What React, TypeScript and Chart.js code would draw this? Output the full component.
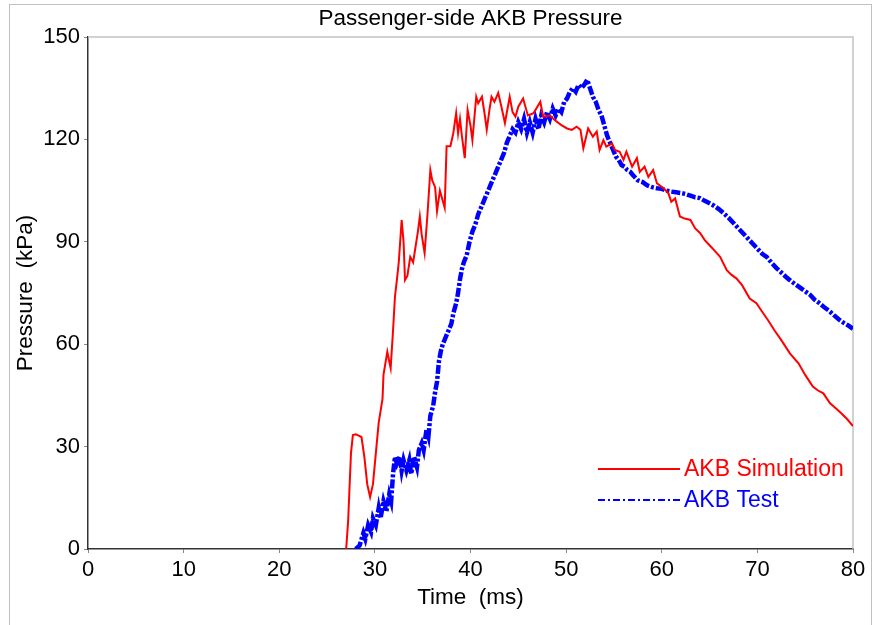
import React, { useEffect, useRef } from "react";
import { Chart, registerables } from "chart.js";

Chart.register(...registerables);

const chartTitle = "Passenger-side AKB Pressure";
const xTitle = "Time  (ms)";
const yTitle = "Pressure  (kPa)";
const simLabel = "AKB Simulation";
const testLabel = "AKB Test";

const xTickValues = [0, 10, 20, 30, 40, 50, 60, 70, 80];
const yTickValues = [0, 30, 60, 90, 120, 150];

const simTime = [
  27.0, 27.2, 27.5, 27.7, 28.0, 28.3, 28.6, 28.9, 29.2, 29.5, 29.8, 30.1, 30.4, 30.8, 30.9,
  31.3, 31.5, 31.65, 31.9, 32.1, 32.3, 32.5, 32.8, 33.0, 33.15, 33.4, 33.7, 34.0, 34.2, 34.5,
  34.7, 34.9, 35.2, 35.5, 35.8, 36.0, 36.3, 36.5, 36.8, 37.0, 37.3, 37.5, 37.9, 38.2, 38.5,
  38.7, 38.9, 39.1, 39.4, 39.7, 40.0, 40.2, 40.6, 40.8, 41.2, 41.5, 41.7, 42.0, 42.2, 42.5,
  42.9, 43.2, 43.6, 44.1, 44.4, 44.7, 45.0, 45.5, 46.0, 46.6, 47.3, 47.6, 48.3, 48.8, 49.5,
  50.1, 50.6, 51.1, 51.5, 51.8, 52.3, 52.8, 53.2, 53.5, 53.9, 54.2, 54.8, 55.1, 55.6, 56.0,
  56.3, 56.9, 57.4, 57.7, 58.2, 58.6, 59.1, 59.5, 60.2, 60.7, 61.0, 61.4, 61.9, 62.4, 63.0,
  63.5, 64.0, 64.5, 65.0, 65.5, 66.1, 66.8, 67.3, 67.8, 68.4, 69.2, 69.9, 70.5, 71.1, 71.8,
  72.5, 73.4, 74.3, 75.0, 75.8, 76.3, 76.9, 77.6, 78.2, 78.8, 79.4, 80.0,
];
const simPressure = [
  0, 8, 28, 33.4, 33.6, 33.2, 32.8, 27, 19, 15.2, 19, 28, 37, 44, 51,
  57.8, 55, 53, 64, 73.9, 78.8, 84, 96.4, 90, 78.8, 80, 85.6, 84, 87.6, 93,
  97.4, 92, 86.7, 98, 111, 108, 106, 99, 105, 103, 100, 118, 118, 121.8, 127.7,
  121.8, 126, 121, 114.5, 128.6, 124, 119.8, 132.5, 130.6, 132.5, 127, 122.8, 129, 132.5, 131,
  133.6, 130, 124.8, 132.5, 128, 126.7, 129.6, 132, 127, 127.7, 131, 126.7, 127, 125.7, 124.2,
  123.2, 122.8, 123.7, 122.8, 117.4, 123.2, 120.8, 122.3, 116.9, 119.8, 117.9, 118.8, 116.9, 116.4, 114,
  116.4, 112, 114.5, 110.5, 112, 109, 111, 107.1, 105.7, 104.2, 101.7, 102.7, 97.4, 96.8, 96.4,
  93.9, 92.6, 90.5, 89, 87.5, 85.6, 81.7, 80.3, 79.3, 77.3, 73.4, 72, 69.5, 67.1, 64,
  61.2, 57.3, 54.4, 51, 47.6, 46.5, 45.6, 42.7, 41.2, 39.7, 38, 36,
];

const testTime = [
  28.0, 28.4, 28.8, 29.0, 29.3, 29.6, 29.8, 30.1, 30.4, 30.6, 30.9, 31.2, 31.5, 31.7, 31.9,
  32.1, 32.3, 32.6, 32.8, 33.0, 33.3, 33.6, 33.8, 34.1, 34.4, 34.6, 34.9, 35.1, 35.4, 35.6,
  35.8, 36.1, 36.3, 36.5, 36.7, 36.9, 37.1, 37.4, 37.7, 38.0, 38.2, 38.5, 38.7, 38.9, 39.1,
  39.3, 39.6, 39.9, 40.2, 40.5, 40.8, 41.1, 41.4, 41.7, 42.0, 42.3, 42.6, 42.9, 43.2, 43.5,
  43.8, 44.1, 44.4, 44.7, 45.0, 45.3, 45.6, 45.9, 46.2, 46.5, 46.8, 47.1, 47.4, 47.7, 48.0,
  48.3, 48.6, 48.9, 49.2, 49.5, 49.8, 50.1, 50.4, 50.7, 51.0, 51.3, 51.6, 51.9, 52.2, 52.5,
  52.8, 53.1, 53.4, 53.7, 54.0, 54.3, 54.6, 54.9, 55.2, 55.5, 55.8, 56.1, 56.4, 56.7, 57.0,
  57.5, 58.0, 58.5, 59.0, 59.5, 60.0, 60.5, 61.0, 61.5, 62.0, 62.5, 63.0, 63.5, 64.0, 64.5,
  65.0, 65.5, 66.0, 66.5, 67.0, 67.5, 68.0, 68.5, 69.0, 69.5, 70.0, 70.5, 71.0, 71.5, 72.0,
  72.5, 73.0, 73.5, 74.0, 74.5, 75.0, 75.5, 76.0, 76.5, 77.0, 77.5, 78.0, 78.5, 79.0, 79.5,
  80.0,
];
const testPressure = [
  0, 1, 4.7, 3, 7, 5, 9, 7, 12, 9, 14, 11, 16, 14, 22,
  27, 25, 27, 23, 26, 23, 26, 22, 27, 24, 29, 31, 29, 35, 33,
  39, 42, 46, 49, 55, 58, 60, 62, 64, 66, 69, 72, 75, 79, 82,
  84, 86, 90, 93, 95, 98, 100, 102, 104, 106, 108, 110, 112, 114, 116,
  119, 121, 123, 122, 125, 123, 126, 122, 125, 122, 126, 123, 127, 125, 128,
  126, 129, 127, 129, 128, 131, 132, 134, 135, 134, 136, 135, 136, 137.5, 135,
  132.5, 131, 128.6, 127, 124, 121, 119, 117, 115, 114, 112.5, 112, 111, 110.5, 109.5,
  108, 107.5, 106.5, 106, 105.7, 105.5, 105, 104.7, 104.5, 104.3, 104, 103.5, 103, 102.8, 102,
  101.3, 100.5, 99.5, 98.3, 97, 95.5, 94, 92.5, 91, 89.5, 88, 86.5, 85.5, 83.8, 82.3,
  81, 79.7, 78.5, 77.5, 76.5, 75.5, 74.5, 73, 72, 70.8, 69.8, 68.5, 67.3, 66.3, 65.5,
  64.5,
];

const SIM_COLOR = "#ff0000";
const TEST_COLOR = "#0000ff";
const FONT = "'Liberation Sans', Arial, Helvetica, sans-serif";

const plotFramePlugin = {
  id: "plotFrame",
  beforeDatasetsDraw(chart: any) {
    const { ctx, chartArea } = chart;
    ctx.save();
    ctx.strokeStyle = "#c4c4c4";
    ctx.lineWidth = 1.5;
    ctx.beginPath();
    ctx.moveTo(chartArea.left, chartArea.top);
    ctx.lineTo(chartArea.right, chartArea.top);
    ctx.lineTo(chartArea.right, chartArea.bottom);
    ctx.stroke();
    ctx.restore();
  },
};

const insideLegendPlugin = {
  id: "insideLegend",
  afterDatasetsDraw(chart: any) {
    const { ctx, chartArea } = chart;
    const x1 = chartArea.right - 255;
    const x2 = chartArea.right - 173;
    const tx = chartArea.right - 169;
    const rows = [chartArea.bottom - 80, chartArea.bottom - 49];
    ctx.save();
    chart.data.datasets.forEach((ds: any, i: number) => {
      const y = rows[i];
      ctx.strokeStyle = ds.borderColor;
      ctx.lineWidth = 2;
      ctx.setLineDash(i === 1 ? [7, 3, 2, 3] : []);
      ctx.beginPath();
      ctx.moveTo(x1, y);
      ctx.lineTo(x2, y);
      ctx.stroke();
      ctx.setLineDash([]);
      ctx.fillStyle = ds.borderColor;
      ctx.font = `23px ${FONT}`;
      ctx.textAlign = "left";
      ctx.textBaseline = "middle";
      ctx.fillText(ds.label, tx, y + 1);
    });
    ctx.restore();
  },
};

export default function App() {
  const canvasRef = useRef<HTMLCanvasElement | null>(null);

  useEffect(() => {
    const canvas = canvasRef.current;
    if (!canvas) return;
    const simData = simTime.map((t, i) => ({ x: t, y: simPressure[i] }));
    const testData = testTime.map((t, i) => ({ x: t, y: testPressure[i] }));

    const chart = new Chart(canvas, {
      type: "line",
      data: {
        datasets: [
          {
            label: simLabel,
            data: simData,
            borderColor: SIM_COLOR,
            backgroundColor: SIM_COLOR,
            borderWidth: 2,
            pointRadius: 0,
            tension: 0,
          },
          {
            label: testLabel,
            data: testData,
            borderColor: TEST_COLOR,
            backgroundColor: TEST_COLOR,
            borderWidth: 4.5,
            borderDash: [9, 2, 3, 2],
            pointRadius: 0,
            tension: 0,
          },
        ],
      },
      options: {
        responsive: false,
        animation: false,
        devicePixelRatio: 1,
        layout: { padding: { left: 0, right: 21, top: 0, bottom: 0 } },
        plugins: {
          legend: { display: false },
          tooltip: { enabled: false },
          title: {
            display: true,
            text: chartTitle,
            fullSize: false,
            color: "#000",
            font: { family: FONT, size: 22.5, weight: "normal" },
            padding: { top: 5, bottom: 5 },
          },
        },
        scales: {
          x: {
            type: "linear",
            min: 0,
            max: 80,
            afterBuildTicks: (scale: any) => {
              scale.ticks = xTickValues.map((v) => ({ value: v }));
            },
            afterFit: (scale: any) => {
              scale.height = 76;
            },
            ticks: {
              color: "#000",
              font: { family: FONT, size: 22 },
              padding: 4,
              maxRotation: 0,
              autoSkip: false,
            },
            grid: {
              display: true,
              drawOnChartArea: false,
              drawTicks: true,
              tickLength: 4,
              color: "#888",
            },
            border: { display: true, color: "#333", width: 1.5 },
            title: {
              display: true,
              text: xTitle,
              color: "#000",
              font: { family: FONT, size: 22.5 },
              padding: { top: 0, bottom: 14 },
            },
          },
          y: {
            type: "linear",
            min: 0,
            max: 150,
            afterBuildTicks: (scale: any) => {
              scale.ticks = yTickValues.map((v) => ({ value: v }));
            },
            afterFit: (scale: any) => {
              scale.width = 88;
            },
            ticks: {
              color: "#000",
              font: { family: FONT, size: 22 },
              padding: 4,
              autoSkip: false,
            },
            grid: {
              display: true,
              drawOnChartArea: false,
              drawTicks: true,
              tickLength: 4,
              color: "#888",
            },
            border: { display: true, color: "#333", width: 1.5 },
            title: {
              display: true,
              text: yTitle,
              color: "#000",
              font: { family: FONT, size: 22.5 },
              padding: { top: 12, bottom: 0 },
            },
          },
        },
      },
      plugins: [plotFramePlugin, insideLegendPlugin],
    } as any);

    return () => chart.destroy();
  }, []);

  return (
    <div
      style={{
        position: "fixed",
        left: 0,
        top: 0,
        width: 874,
        height: 625,
        overflow: "hidden",
        background: "#fff",
      }}
    >
      <div
        style={{
          position: "absolute",
          left: 9,
          top: 4,
          width: 863,
          height: 700,
          boxSizing: "border-box",
          border: "1px solid #c0c0c0",
        }}
      />
      <canvas
        ref={canvasRef}
        width={874}
        height={625}
        style={{ position: "absolute", left: 0, top: 0, width: 874, height: 625 }}
      />
    </div>
  );
}
